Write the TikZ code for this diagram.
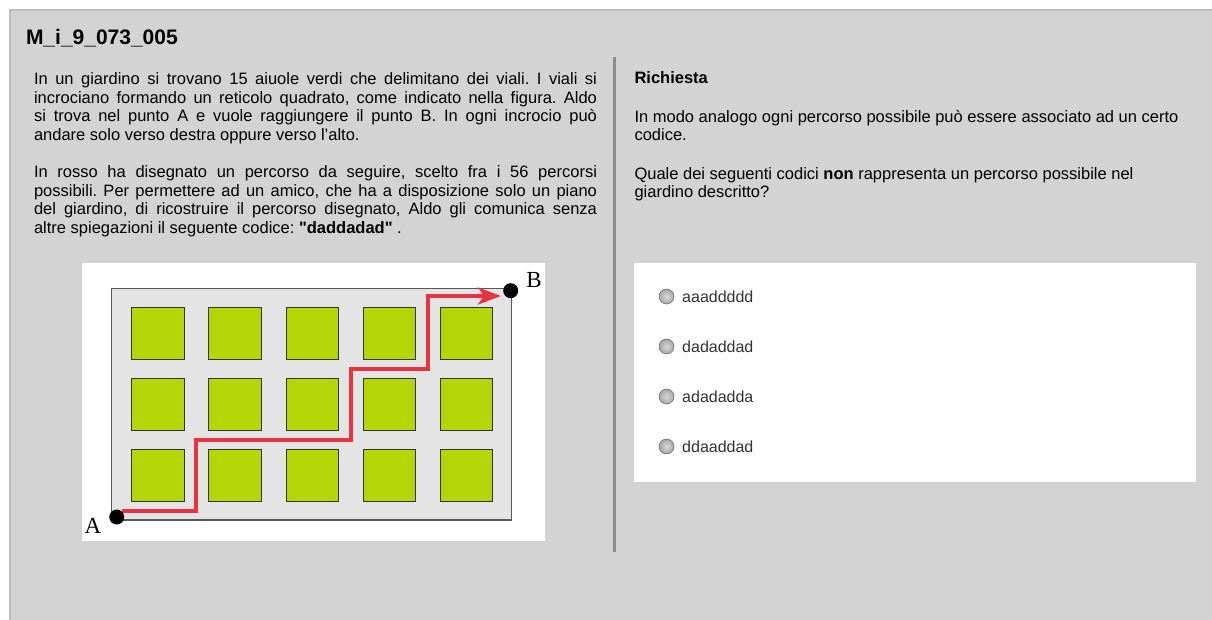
\documentclass[tikz,border=0pt]{standalone}
\usepackage{fontspec}
\setmainfont{Liberation Sans}[Ligatures=TeXOff]
\newfontfamily\serifAB{Liberation Serif}
\usetikzlibrary{arrows.meta}
\definecolor{panel}{RGB}{211,211,211}
\definecolor{panelborder}{RGB}{188,188,188}
\definecolor{divider}{RGB}{140,140,140}
\definecolor{walk}{RGB}{228,228,228}
\definecolor{bed}{RGB}{180,213,6}
\definecolor{route}{RGB}{232,52,64}
\definecolor{opttext}{RGB}{51,51,51}
\newcommand\jline[1]{\makebox[563pt][s]{#1}}
\frenchspacing
\begin{document}
\frenchspacing
\begin{tikzpicture}[x=1pt,y=-1pt,
  txt/.style={anchor=base west,inner sep=0pt,outer sep=0pt,font=\fontsize{16.5}{18.5}\selectfont},
  titletxt/.style={anchor=base west,inner sep=0pt,outer sep=0pt,font=\fontsize{21}{25}\selectfont\bfseries},
  bedbox/.style={draw=black!80,line width=0.9pt,fill=bed,minimum width=52.5pt,minimum height=52pt,inner sep=0pt},
  dot/.style={circle,fill=black,minimum size=15pt,inner sep=0pt},
  ptlabel/.style={inner sep=0pt,font=\serifAB\fontsize{23}{23}\selectfont},
  radio/.style={circle,minimum size=15pt,inner sep=0pt,draw=gray!80!black,line width=0.5pt,inner color=gray!30,outer color=gray!70},
  opt/.style={anchor=west,inner sep=0pt,text=opttext,font=\fontsize{16}{18}\selectfont},
  routeline/.style={draw=route,line width=4pt,line join=miter,-{Stealth[length=23pt,width=17pt,inset=6pt]}}
]
\useasboundingbox (0,0) rectangle (1212,620);
% background panel
\fill[white] (0,0) rectangle (1212,620);
\fill[panel] (10,10) rectangle (1212,620);
\draw[panelborder,line width=1.5pt] (10,620) -- (10,10) -- (1212,10);
% divider
\draw[divider,line width=3pt] (614.5,57) -- (614.5,552);

% title
\node[titletxt] (title) at (26,45) {M\_i\_9\_073\_005};

% left text
\node[txt] (l1) at (34,85) {\jline{In un giardino si trovano 15 aiuole verdi che delimitano dei viali. I viali si}};
\node[txt] (l2) at (34,103.5) {\jline{incrociano formando un reticolo quadrato, come indicato nella figura. Aldo}};
\node[txt] (l3) at (34,122) {\jline{si trova nel punto A e vuole raggiungere il punto B. In ogni incrocio può}};
\node[txt] (l4) at (34,140.5) {andare solo verso destra oppure verso l’alto.};
\node[txt] (l5) at (34,178) {\jline{In rosso ha disegnato un percorso da seguire, scelto fra i 56 percorsi}};
\node[txt] (l6) at (34,196.5) {\jline{possibili. Per permettere ad un amico, che ha a disposizione solo un piano}};
\node[txt] (l7) at (34,215) {\jline{del giardino, di ricostruire il percorso disegnato, Aldo gli comunica senza}};
\node[txt] (l8) at (34,233.5) {altre spiegazioni il seguente codice: \textbf{"daddadad"} .};

% picture
\fill[white] (82,263) rectangle (545,541);
\draw[fill=walk,draw=black!65,line width=1.4pt] (111.7,288.3) rectangle (511.7,520);
\foreach \r/\yy in {1/333.2,2/404.2,3/475.2}{
  \foreach \c/\xx in {1/158,2/235.1,3/312.2,4/389.3,5/466.4}{
    \node[bedbox] (bed-\r-\c) at (\xx,\yy) {};
  }
}
\coordinate (p0) at (122,510.5);
\coordinate (p1) at (195.5,510.5);
\coordinate (p2) at (195.5,440);
\coordinate (p3) at (350.5,440);
\coordinate (p4) at (350.5,368.5);
\coordinate (p5) at (427.5,368.5);
\coordinate (p6) at (427.5,296);
\coordinate (p7) at (501,296);
\draw[routeline] (p0) -- (p1) -- (p2) -- (p3) -- (p4) -- (p5) -- (p6) -- (p7);
\node[dot] (A) at (116.7,517) {};
\node[dot] (B) at (510.7,290.7) {};
\node[ptlabel] (Alab) at (93,526) {A};
\node[ptlabel] (Blab) at (534,280) {B};

% right column
\node[txt,font=\fontsize{16.5}{18.5}\selectfont\bfseries] (req) at (634.5,84) {Richiesta};
\node[txt] (r1) at (634.5,122.5) {In modo analogo ogni percorso possibile può essere associato ad un certo};
\node[txt] (r2) at (634.5,141) {codice.};
\node[txt] (r3) at (634.5,179.5) {Quale dei seguenti codici \textbf{non} rappresenta un percorso possibile nel};
\node[txt] (r4) at (634.5,198) {giardino descritto?};

% answers
\fill[white] (634.3,262.7) rectangle (1196,481.7);
\foreach \i/\yy/\code in {1/296.5/aaaddddd,2/346.5/dadaddad,3/396.5/adadadda,4/446.5/ddaaddad}{
  \node[radio] (rb\i) at (666.5,\yy) {};
  \node[opt] (ot\i) at (682,\yy) {\code};
}
\end{tikzpicture}
\end{document}
